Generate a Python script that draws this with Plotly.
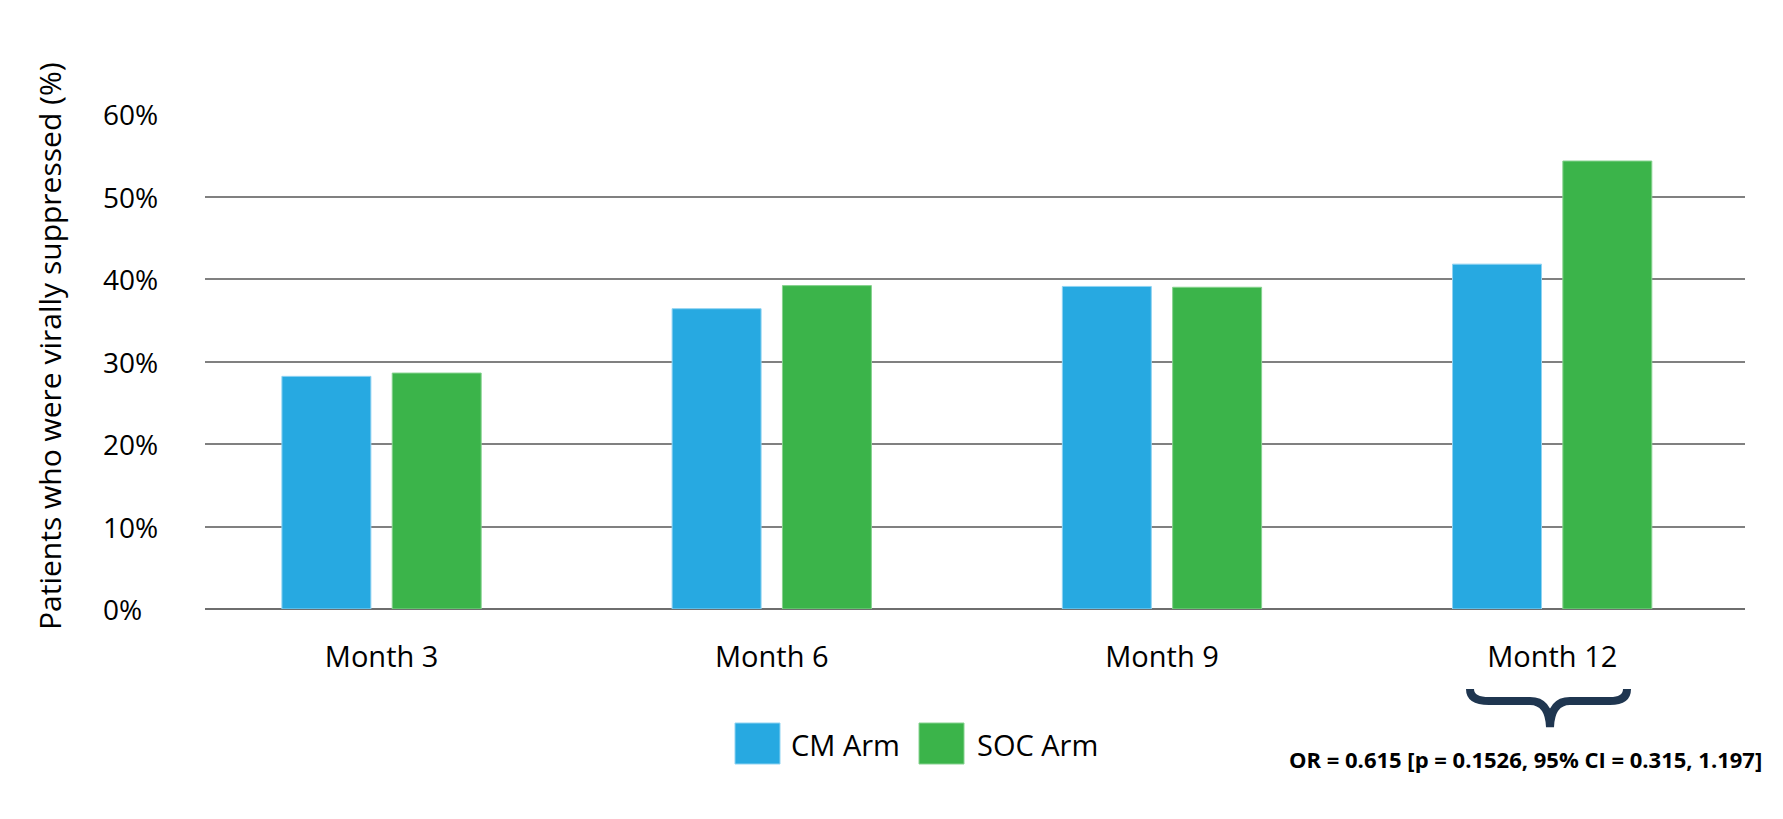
import plotly.graph_objects as go

# ---- data ----
categories = ["Month 3", "Month 6", "Month 9", "Month 12"]
series_names = ["CM Arm", "SOC Arm"]
cm_values = [28.2, 36.4, 39.1, 41.8]
soc_values = [28.6, 39.2, 39.0, 54.3]
y_tick_vals = [0, 10, 20, 30, 40, 50, 60]
y_tick_text = ["0%", "10%", "20%", "30%", "40%", "50%", "60%"]
y_title = "Patients who were virally suppressed (%)"
stat_note = "OR = 0.615 [p = 0.1526, 95% CI = 0.315, 1.197]"

# ---- layout geometry (pixels, page coordinates; page body has an 8px margin) ----
OFF = 8
W, H = 1783 - OFF, 819 - OFF
PLOT_L, PLOT_R, PLOT_T, PLOT_B = 205, 1745, 114, 609
ML, MR = PLOT_L - OFF, W - (PLOT_R - OFF)
MT, MB = PLOT_T - OFF, H - (PLOT_B - OFF)
PW, PH = PLOT_R - PLOT_L, PLOT_B - PLOT_T

def px(x):
    return (x - PLOT_L) / PW

def py(y):
    return (PLOT_B - y) / PH

BLUE = "#27A9E1"
GREEN = "#3BB44A"
NAVY = "#1F3650"
FONT = "Open Sans"

fig = go.Figure()
fig.add_trace(go.Bar(
    x=categories, y=cm_values, name=series_names[0],
    marker=dict(color=BLUE, line=dict(color="#8fd3f2", width=1)),
    width=0.228, offset=-0.2555, showlegend=False,
))
fig.add_trace(go.Bar(
    x=categories, y=soc_values, name=series_names[1],
    marker=dict(color=GREEN, line=dict(color="#86d28f", width=1)),
    width=0.228, offset=0.0272, showlegend=False,
))

shapes = []
# black 10% line
shapes.append(dict(type="line", xref="paper", yref="y", x0=0, x1=1, y0=10, y1=10,
                   line=dict(color="#000000", width=1.2), layer="between"))
# legend squares
shapes.append(dict(type="rect", xref="paper", yref="paper",
                   x0=px(735), x1=px(780), y0=py(764), y1=py(723),
                   fillcolor=BLUE, line=dict(color="#8fd3f2", width=1)))
shapes.append(dict(type="rect", xref="paper", yref="paper",
                   x0=px(919), x1=px(964), y0=py(764), y1=py(723),
                   fillcolor=GREEN, line=dict(color="#86d28f", width=1)))

# curly brace under Month 12
pts = [
    ("M", [(1470, 689)]),
    ("Q", [(1470, 701), (1489, 701)]),
    ("L", [(1530, 701)]),
    ("Q", [(1549, 701), (1550, 727)]),
    ("Q", [(1551, 701), (1570, 701)]),
    ("L", [(1610, 701)]),
    ("Q", [(1627, 701), (1627, 689)]),
]
path = " ".join(c + " " + " ".join(f"{px(a):.5f},{py(b):.5f}" for a, b in p) for c, p in pts)
shapes.append(dict(type="path", xref="paper", yref="paper", path=path,
                   line=dict(color=NAVY, width=8)))

annotations = [
    dict(text=y_title, xref="paper", yref="paper", x=px(49), y=py(346),
         xanchor="center", yanchor="middle", textangle=-90, showarrow=False,
         font=dict(family=FONT, size=30, color="#000")),
    dict(text=series_names[0], xref="paper", yref="paper", x=px(789), y=py(744),
         xanchor="left", yanchor="middle", showarrow=False,
         font=dict(family=FONT, size=29, color="#000")),
    dict(text=series_names[1], xref="paper", yref="paper", x=px(975), y=py(744),
         xanchor="left", yanchor="middle", showarrow=False,
         font=dict(family=FONT, size=29, color="#000")),
    dict(text="<b>" + stat_note + "</b>", xref="paper", yref="paper", x=px(1764), y=py(759),
         xanchor="right", yanchor="middle", showarrow=False,
         font=dict(family=FONT, size=22, color="#000")),
]
# left-aligned y tick labels
for v, t in zip(y_tick_vals, y_tick_text):
    annotations.append(dict(text=t, xref="paper", yref="y", x=px(101), y=v,
                            xanchor="left", yanchor="middle", showarrow=False,
                            font=dict(family=FONT, size=28, color="#000")))

fig.update_layout(
    width=W, height=H,
    margin=dict(l=ML, r=MR, t=MT, b=MB, autoexpand=False),
    paper_bgcolor="white", plot_bgcolor="white",
    barmode="overlay",
    font=dict(family=FONT, size=29, color="#000"),
    showlegend=False,
    shapes=shapes,
    annotations=annotations,
)
fig.update_xaxes(
    type="category", range=[-0.4526, 3.494], showgrid=False, showline=False,
    zeroline=False, ticks="", ticklabelstandoff=28,
    tickfont=dict(family=FONT, size=29, color="#000"),
)
fig.update_yaxes(
    range=[0, 60], tickvals=y_tick_vals, showticklabels=False,
    showgrid=True, gridcolor="#808080", gridwidth=1.6,
    zeroline=True, zerolinecolor="#6e6e6e", zerolinewidth=2,
    showline=False, ticks="",
)

fig.write_html("out.html")
